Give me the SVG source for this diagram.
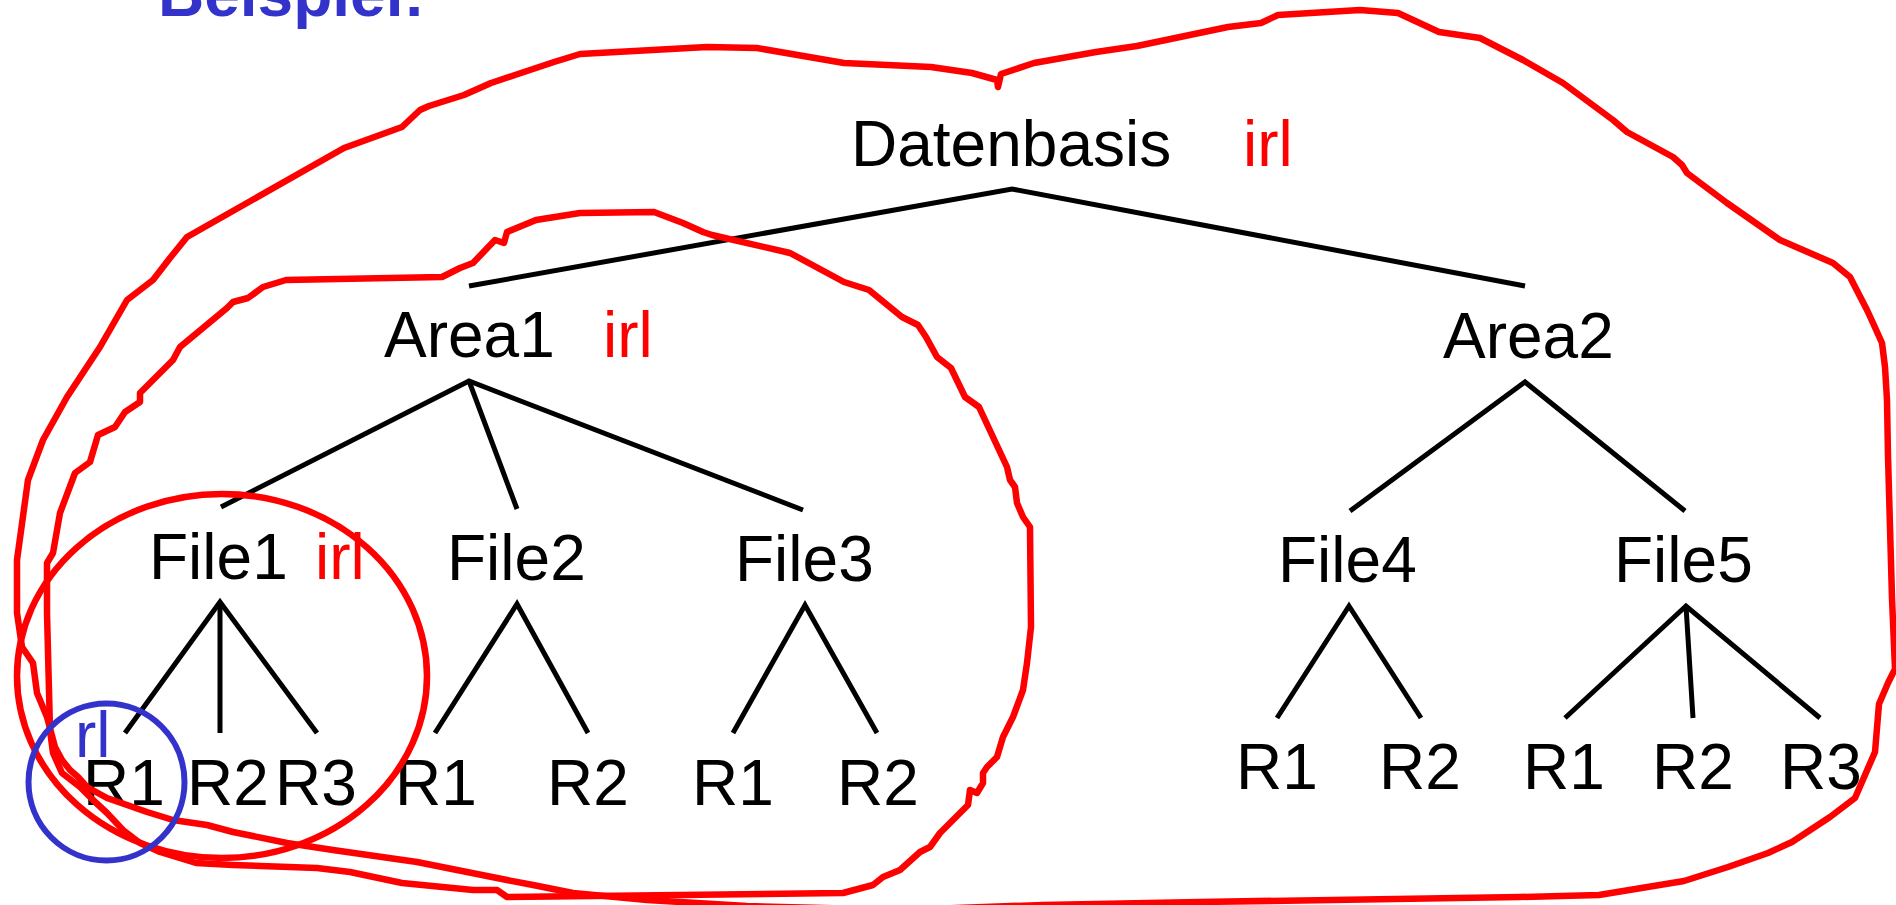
<svg xmlns="http://www.w3.org/2000/svg" width="1896" height="905" viewBox="0 0 1896 905">
  <style>
    .lbl { font-family: "Liberation Sans", Arial, sans-serif; font-size: 64px; fill: #000; }
    .tag { font-family: "Liberation Sans", Arial, sans-serif; font-size: 64px; fill: #ff0000; }
    .tagb { font-family: "Liberation Sans", Arial, sans-serif; font-size: 64px; fill: #3333cc; }
    .title { font-family: "Liberation Sans", Arial, sans-serif; font-size: 64px; font-weight: bold; fill: #3333cc; }
    .edge { fill: none; stroke: #000; stroke-width: 5; stroke-linecap: butt; stroke-linejoin: miter; }
    .hull { fill: none; stroke: #ff0000; stroke-width: 6.5; stroke-linejoin: round; stroke-linecap: round; }
    .ring { fill: none; stroke: #3333cc; stroke-width: 6; }
  </style>
  <rect width="1896" height="905" fill="#fff"/>

  <text class="title" x="158" y="16">Beispiel:</text>

  <!-- tree edges -->
  <g id="connectors">
    <polyline class="edge" points="469,286 1012,189 1525,286"/>
    <polyline class="edge" points="221,507 469,381 803,510"/>
    <line class="edge" x1="469" y1="381" x2="517" y2="509"/>
    <polyline class="edge" points="125,733 220,602 317,733"/>
    <line class="edge" x1="220" y1="602" x2="220" y2="733"/>
    <polyline class="edge" points="435,733 517,604 588,733"/>
    <polyline class="edge" points="733,733 805,605 877,733"/>
    <polyline class="edge" points="1350,511 1525,382 1685,511"/>
    <polyline class="edge" points="1277,718 1349,606 1421,718"/>
    <polyline class="edge" points="1565,718 1686,606 1820,718"/>
    <line class="edge" x1="1686" y1="606" x2="1693" y2="718"/>
  </g>

  <!-- tree nodes -->
  <g id="datenbasis">
    <text class="lbl" x="851" y="166">Datenbasis</text>
    <text class="tag" x="1243" y="166">irl</text>
  </g>
  <g id="area1">
    <text class="lbl" x="384" y="357">Area1</text>
    <text class="tag" x="603" y="357">irl</text>
  </g>
  <g id="area2">
    <text class="lbl" x="1443" y="358">Area2</text>
  </g>
  <g id="file1">
    <text class="lbl" x="149" y="579">File1</text>
    <text class="tag" x="315" y="579">irl</text>
  </g>
  <g id="file2"><text class="lbl" x="447" y="580">File2</text></g>
  <g id="file3"><text class="lbl" x="735" y="581">File3</text></g>
  <g id="file4"><text class="lbl" x="1278" y="582">File4</text></g>
  <g id="file5"><text class="lbl" x="1614" y="582">File5</text></g>

  <g id="file1-r1">
    <text class="lbl" x="83" y="805">R1</text>
    <text class="tagb" x="75" y="757">rl</text>
  </g>
  <g id="file1-r2"><text class="lbl" x="187" y="805">R2</text></g>
  <g id="file1-r3"><text class="lbl" x="275" y="805">R3</text></g>
  <g id="file2-r1"><text class="lbl" x="395" y="805">R1</text></g>
  <g id="file2-r2"><text class="lbl" x="547" y="805">R2</text></g>
  <g id="file3-r1"><text class="lbl" x="692" y="805">R1</text></g>
  <g id="file3-r2"><text class="lbl" x="837" y="805">R2</text></g>
  <g id="file4-r1"><text class="lbl" x="1236" y="789">R1</text></g>
  <g id="file4-r2"><text class="lbl" x="1379" y="789">R2</text></g>
  <g id="file5-r1"><text class="lbl" x="1523" y="789">R1</text></g>
  <g id="file5-r2"><text class="lbl" x="1652" y="789">R2</text></g>
  <g id="file5-r3"><text class="lbl" x="1780" y="789">R3</text></g>

  <!-- freehand lock regions -->
  <g id="lock-datenbasis">
    <path class="hull" d="M1200,902 L1520,897 1599,895 1684,881 1728,867 1768,853 1792,842 1830,817 1855,798 1875,752 1879,704 1888,683 1895,669 1892,598 1888,456 1887,400 1885,367 1882,343 1873,323 1867,310 1850,277 1833,263 1780,240 1727,203 1687,173 1682,165 1673,157 1627,132 1613,120 1563,83 1523,60 1480,38 1439,32 1398,13 1360,10 1278,15 1261,23 1228,27 1137,46 1096,52 1034,63 1001,74 998,87 997,80 972,73 931,67 844,63 757,48 707,47 580,54 554,62 518,74 491,83 464,95 429,106 420,110 402,127 344,148 187,237 170,258 153,280 127,300 100,347 67,397 43,440 28,480 17,560 17,613 22,647 33,663 37,693 47,717 55,747 62,760 70,770 78,777 87,787 107,798 147,812 173,820 207,825 233,832 287,843 333,850 417,862 507,880 533,885 573,893 647,900 747,906 900,910 1043,905 Z"/>
  </g>
  <g id="lock-area1">
    <path class="hull" d="M507,897 L843,893 873,885 883,877 900,870 920,852 930,847 940,833 968,805 970,790 977,793 983,783 983,773 987,767 997,757 1003,737 1013,717 1023,690 1027,663 1031,627 1030,527 1023,517 1017,503 1015,487 1010,480 1007,467 979,407 965,397 951,368 937,357 926,337 918,325 902,317 869,290 844,282 790,253 712,235 703,232 683,223 654,212 580,213 536,220 507,232 504,243 495,240 473,263 460,268 442,277 286,280 263,287 248,298 233,302 227,308 180,347 173,360 140,393 140,402 125,412 115,427 98,435 90,462 75,473 60,513 53,553 47,563 47,613 50,730 53,753 62,773 80,787 93,800 107,813 123,830 140,843 160,852 196,863 233,865 317,868 350,872 402,883 473,890 497,890 Z"/>
  </g>
  <g id="lock-file1">
    <ellipse class="hull" cx="222" cy="676" rx="205" ry="182"/>
  </g>
  <g id="lock-record">
    <ellipse class="ring" cx="106.5" cy="782" rx="78" ry="78.5"/>
  </g>
</svg>
